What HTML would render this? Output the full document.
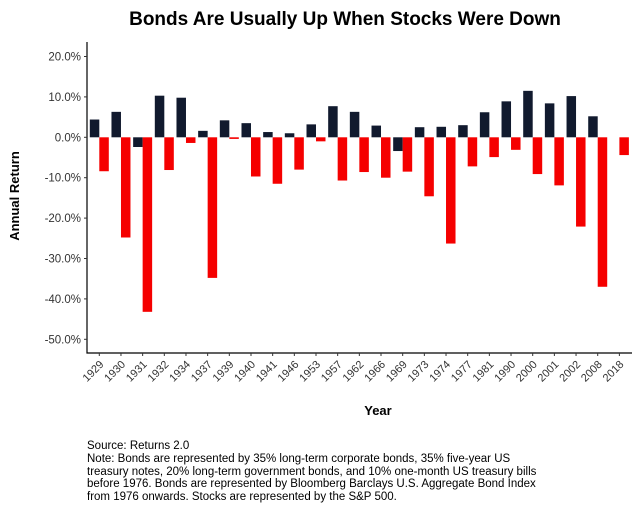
<!DOCTYPE html>
<html><head><meta charset="utf-8"><style>
body{margin:0;background:#fff;width:640px;height:512px;overflow:hidden;font-family:"Liberation Sans",sans-serif}
</style></head><body>
<svg width="640" height="512" id="svg">
<text x="345" y="25" text-anchor="middle" font-size="19" font-weight="bold" fill="#000">Bonds Are Usually Up When Stocks Were Down</text>
<text transform="translate(19,196) rotate(-90)" text-anchor="middle" font-size="13" font-weight="bold">Annual Return</text>
<text x="378" y="415" text-anchor="middle" font-size="13" font-weight="bold">Year</text>
<g font-size="11.5" fill="#000">
<text x="87" y="449">Source:  Returns 2.0</text>
<text x="87" y="462">Note: Bonds are represented by 35% long-term corporate bonds, 35% five-year US</text>
<text x="87" y="475">treasury notes, 20% long-term government bonds, and 10% one-month US treasury bills</text>
<text x="87" y="487">before 1976. Bonds are represented by Bloomberg Barclays U.S. Aggregate Bond Index</text>
<text x="87" y="500">from 1976 onwards. Stocks are represented by the S&amp;P 500.</text>
</g>
<g id="plot"></g>
</svg>
<script>
const years=["1929","1930","1931","1932","1934","1937","1939","1940","1941","1946","1953","1957","1962","1966","1969","1973","1974","1977","1981","1990","2000","2001","2002","2008","2018"];
const bonds=[4.4,6.3,-2.4,10.3,9.8,1.6,4.2,3.5,1.3,1.0,3.2,7.7,6.3,2.9,-3.4,2.5,2.6,3.0,6.2,8.9,11.5,8.4,10.2,5.2,0];
const stocks=[-8.4,-24.8,-43.2,-8.1,-1.4,-34.8,-0.4,-9.7,-11.5,-8.0,-1.0,-10.7,-8.6,-10.0,-8.5,-14.6,-26.3,-7.2,-4.9,-3.1,-9.1,-11.9,-22.1,-37.0,-4.4];
const yTicks=[20,10,0,-10,-20,-30,-40,-50];
const NS="http://www.w3.org/2000/svg";
const g=document.getElementById('plot');
const y0=137.3,pp=4.04;
function y(v){return y0-v*pp;}
function x(i){return 99.3+i*21.67;}
function mk(t,a){const e=document.createElementNS(NS,t);for(const k in a)e.setAttribute(k,a[k]);g.appendChild(e);return e;}
const ax=mk('path',{d:'M87,42V353H632',fill:'none',stroke:'#000','stroke-width':1.2});


yTicks.forEach(v=>{
 const t=mk('line',{x1:84,x2:87,y1:y(v),y2:y(v),stroke:'#333'});
 
 
 const l=mk('text',{x:81,y:y(v)+4,'text-anchor':'end','font-size':11.5,fill:'#333'});
 l.textContent=v.toFixed(1)+'%';
 
 
});
years.forEach((yr,i)=>{
 const cx=x(i);
 const t=mk('line',{x1:cx,x2:cx,y1:353,y2:356,stroke:'#333'});
 
 
 const l=mk('text',{transform:`translate(${cx+5},${365}) rotate(-45)`,'text-anchor':'end','font-size':11,fill:'#333'});
 l.textContent=yr;
 
 
 const b=bonds[i],s=stocks[i];
 const bb=mk('rect',{x:cx-9.5,width:9.5,y:Math.min(y(b),y0),height:Math.abs(y(b)-y0),fill:'#111a2e'});
 
 
 const sb=mk('rect',{x:cx,width:9.5,y:Math.min(y(s),y0),height:Math.abs(y(s)-y0),fill:'#f50000'});
 
 
});
</script>
</body></html>
